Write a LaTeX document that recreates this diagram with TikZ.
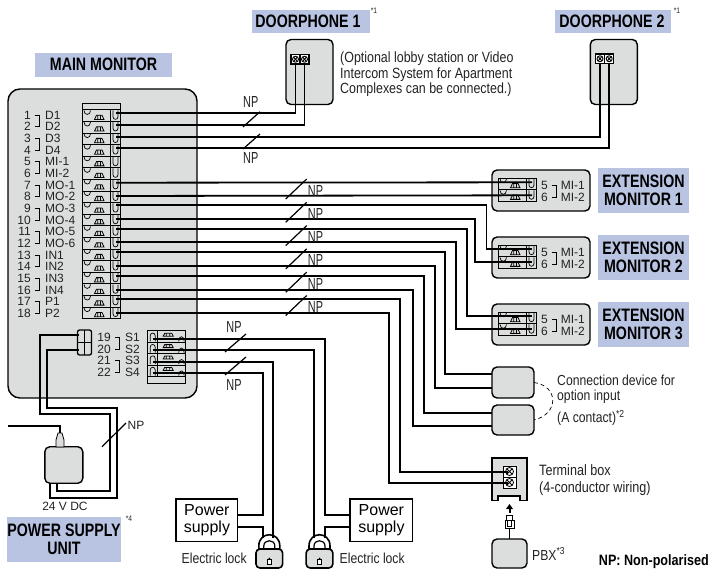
\documentclass[tikz,border=0pt]{standalone}
\usepackage{fontspec}
\setmainfont{Liberation Sans}
\newfontfamily\condfont[FakeStretch=0.84]{Liberation Sans}
\newfontfamily\headfont[FakeStretch=0.79]{Liberation Sans}
\newfontfamily\npfont[FakeStretch=0.68]{Liberation Sans}
\usepackage{xcolor}
\usepackage{tikz}
\usetikzlibrary{calc}

\definecolor{unitgray}{HTML}{DCDDDD}
\definecolor{labelblue}{HTML}{B9C4E2}
\definecolor{inkgray}{HTML}{222222}

\tikzset{
  termrow/.pic={
    \draw [line width=0.7pt] (0,0) rectangle (28,11.6);
    \draw [line width=0.7pt] (28,0) rectangle (38,11.6);
    \draw [line width=0.7pt] (2,0.8) .. controls (2,6) and (8.5,6) .. (8.5,0.8);
    \draw [line width=0.8pt] (12.5,9.8)--(14.5,5.5)--(20,5.5)--(22,9.8)--cycle (15.8,5.5)--(15.8,9.8) (18.5,5.5)--(18.5,9.8);
    \draw [line width=0.7pt] (31,0.8)--(31,7) .. controls (31,10.5) and (36,10.5) .. (36,7)--(36,0.8);
  },
  striprow/.pic={
    \draw [line width=0.7pt] (0,0) rectangle (9.5,11.4);
    \draw [line width=0.7pt] (9.5,0) rectangle (38,11.4);
    \draw [line width=0.7pt] (2.5,10.6)--(2.5,5) .. controls (2.5,1.5) and (7.5,1.5) .. (7.5,5)--(7.5,10.6);
    \draw [line width=0.8pt] (15.5,5.5)--(17,2.5)--(24,2.5)--(25.5,5.5)--cycle (18.5,2.5)--(18.5,5.5) (22,2.5)--(22,5.5);
    \draw [line width=0.7pt] (31,10.6) .. controls (31,4.5) and (36.5,4.5) .. (36.5,10.6);
  },
  screwbox/.pic={
    \draw [line width=1.1pt, fill=white] (0,0) rectangle (9,9.5);
    \draw [line width=0.9pt] (4.5,4.75) circle (3);
    \draw [line width=0.9pt] (2.5,2.5)--(6.5,7) (6.5,2.5)--(2.5,7);
  },
  bigscrew/.pic={
    \draw [line width=1pt, fill=white] (0,0) rectangle (13,11);
    \draw [line width=0.8pt] (6.5,5.5) circle (4);
    \draw [line width=0.8pt] (4,3)--(9,8) (9,3)--(4,8);
  }
}

\begin{document}
\begin{tikzpicture}[x=1pt,y=-1pt]%%entrance system wiring

        \tikzstyle{unit}   = [draw, line width=1.4pt, fill=unitgray, rounded corners=5pt, inner sep=0pt, outer sep=0pt]
        \tikzstyle{wire}   = [line width=1.8pt, black]
        \tikzstyle{tick}   = [line width=1.2pt, black]
        \tikzstyle{hair}   = [line width=0.7pt, black]
        \tikzstyle{head}   = [fill=labelblue, inner sep=0pt, align=center, font=\headfont\bfseries\fontsize{18}{17.5}\selectfont]
        \tikzstyle{pin}    = [inner sep=0pt, text=inkgray, text height=8.6pt, text depth=0pt, font=\fontsize{12}{12}\selectfont]
        \tikzstyle{note}   = [inner sep=0pt, anchor=west, text=inkgray, font=\condfont\fontsize{14.5}{15}\selectfont]
        \tikzstyle{nplabel}= [inner sep=0pt, text=inkgray, font=\npfont\fontsize{16}{16}\selectfont]
        \tikzstyle{star}   = [inner sep=0pt, text=inkgray, font=\condfont\fontsize{8}{8}\selectfont]

        \useasboundingbox (0,0) rectangle (709,569);

        % headings
        \node [head, minimum width=137, minimum height=24](mainhead) at (103.5,64.7) {MAIN MONITOR};
        \node [head, minimum width=118, minimum height=23](door1head) at (311,21.7) {\hspace*{-6pt}DOORPHONE 1};
        \node [head, minimum width=116, minimum height=23](door2head) at (613,21.7) {\hspace*{-2pt}DOORPHONE 2};
        \node [head, minimum width=91, minimum height=45.5](ext1head) at (643.5,190.5) {EXTENSION\\MONITOR 1};
        \node [head, minimum width=91, minimum height=45.5](ext2head) at (643.5,257.5) {EXTENSION\\MONITOR 2};
        \node [head, minimum width=91, minimum height=45.5](ext3head) at (643.5,324.5) {EXTENSION\\MONITOR 3};
        \node [head, minimum width=114, minimum height=45](psuhead) at (64,539.5) {POWER SUPPLY\\UNIT};
        \node [star](star1) at (374,11) {*1};
        \node [star](star2) at (677,11) {*1};
        \node [star](star4) at (129,519) {*4};

        % units
        \node [unit, rounded corners=12pt, minimum width=189, minimum height=309](monitor) at (102.5,243.5) {};
        \node [unit, minimum width=47, minimum height=65](door1) at (309.5,72) {};
        \node [unit, minimum width=47, minimum height=65](door2) at (613.8,72) {};
        \node [unit, minimum width=98, minimum height=41](ext1) at (541,190.5) {};
        \node [unit, minimum width=98, minimum height=41](ext2) at (541,257.5) {};
        \node [unit, minimum width=98, minimum height=41](ext3) at (541,324.5) {};
        \node [unit, minimum width=42, minimum height=31](dev1) at (513,382.5) {};
        \node [unit, minimum width=42, minimum height=30](dev2) at (513,420) {};
        \node [unit, minimum width=35, minimum height=29](pbx) at (509.5,553.5) {};
        \node [unit, minimum width=38, minimum height=36.5](psu) at (63.8,465) {};
        \node [draw, line width=1.4pt, fill=white, inner sep=0pt, outer sep=0pt, minimum width=61.7, minimum height=42.7, align=center, font=\fontsize{16}{17.5}\selectfont](sup1) at (206.9,520.4) {Power\\supply};
        \node [draw, line width=1.4pt, fill=white, inner sep=0pt, outer sep=0pt, minimum width=62.7, minimum height=42.7, align=center, font=\fontsize{16}{17.5}\selectfont](sup2) at (381.4,520.4) {Power\\supply};

        % terminal box with its notch
        \draw [line width=1.2pt, fill=unitgray] (492,458) -- (527,458) -- (527,500.5) -- (520,500.5) -- (520,496) -- (498,496) -- (498,500.5) -- (492,500.5) -- cycle;
        \node [inner sep=0pt, minimum size=0pt](tbox) at (509.5,479) {};
        \pic at (503,466) {bigscrew};
        \pic at (503,477) {bigscrew};

        % plug under the terminal box
        \draw [line width=1pt, fill=white] (506.5,515) -- (512.5,515) -- (512.5,520) -- (514,520) -- (514,528) -- (505,528) -- (505,520) -- (506.5,520) -- cycle (507.5,520) -- (511.5,520) -- (511.5,526) -- (507.5,526) -- cycle;
        \coordinate (plugtop) at (509.5,504);
        \coordinate (plugtail) at (509.5,528);
        \draw [line width=1.5pt] (plugtail) -- (pbx.north);
        \draw [line width=2pt] (509.5,513) -- (509.5,508);
        \fill (plugtop) -- (513,509) -- (506,509) -- cycle;

        % main monitor strip
        \draw [line width=0.7pt] (82,103) rectangle (120,109.7);
        \foreach \i in {1,...,18}{
                \pgfmathsetmacro{\y}{109.7+(\i-1)*11.6}
                \pic at (82,\y) {termrow};
        }
        \foreach \i/\pin in {1/D1,2/D2,3/D3,4/D4,5/MI-1,6/MI-2,7/MO-1,8/MO-2,9/MO-3,10/MO-4,11/MO-5,12/MO-6,13/IN1,14/IN2,15/IN3,16/IN4,17/P1,18/P2}{
                \pgfmathsetmacro{\y}{115+(\i-1)*11.66}
                \node [pin, anchor=east](num\i) at (31,\y) {\i};
                \node [pin, anchor=west](name\i) at (45,\y) {\pin};
        }
        \foreach \i in {1,3,...,17}{
                \pgfmathsetmacro{\y}{115+(\i-1)*11.66}
                \draw [hair] (34.5,\y) -- (39.5,\y) -- (39.5,\y+11.66) -- (34.5,\y+11.66);
        }

        % lock strip
        \draw [line width=0.7pt] (147.7,376.3) rectangle (185.7,383);
        \foreach \i in {0,...,3}{
                \pgfmathsetmacro{\y}{330.7+\i*11.4}
                \pic at (147.7,\y) {striprow};
        }
        \foreach \i/\pin/\y in {19/S1/336.7,20/S2/349,21/S3/360,22/S4/371.7}{
                \node [pin, anchor=east](num\i) at (111,\y) {\i};
                \node [pin, anchor=west](name\i) at (125,\y) {\pin};
        }
        \draw [hair] (115,337) -- (119.5,337) -- (119.5,349) -- (115,349);
        \draw [hair] (115,360) -- (119.5,360) -- (119.5,372) -- (115,372);

        % power jack
        \node [draw, line width=1.3pt, fill=unitgray, rounded corners=2pt, inner sep=0pt, outer sep=0pt, minimum width=14, minimum height=25](jack) at (84.5,342.5) {};
        \draw [line width=1.2pt] (jack.west) -- (jack.east) (jack.north) -- (jack.south);

        % extension monitors
        \foreach \m/\dy in {1/0,2/67,3/134}{
                \pic at (498,178+\dy) {termrow};
                \pic at (498,189.6+\dy) {termrow};
                \node [pin, anchor=east](five\m) at (548,185+\dy) {5};
                \node [pin, anchor=east](six\m) at (548,197+\dy) {6};
                \node [pin, anchor=west](one\m) at (560.7,185+\dy) {MI-1};
                \node [pin, anchor=west](two\m) at (560.7,197+\dy) {MI-2};
                \draw [hair] (551.5,185+\dy) -- (556.5,185+\dy) -- (556.5,197+\dy) -- (551.5,197+\dy);
                \coordinate (ext\m a) at (532,182.3+\dy);
                \coordinate (ext\m b) at (532,195.3+\dy);
        }

        % doorphone terminals
        \pic at (291,54.5) {screwbox};
        \pic at (300,54.5) {screwbox};
        \pic at (595.5,54) {screwbox};
        \pic at (604.7,54) {screwbox};
        \coordinate (door1a) at (295.5,64);
        \coordinate (door1b) at (304.5,64);
        \coordinate (door2a) at (600,63.5);
        \coordinate (door2b) at (609.2,63.5);

        % wire ends
        \foreach \name/\y in {d1/113.3,d2/125,d3/136.7,d4/148.3,mo1/182.7,mo2/196,mo3/205,mo4/219,mo5/229,mo6/242.3,in1/252.3,in2/266,in3/276,in4/290,p1/299,p2/312.7}{
                \coordinate (\name) at (116,\y);
        }
        \foreach \name/\y in {s1/339,s2/350,s3/362,s4/373}{
                \coordinate (\name) at (153,\y);
        }
        \coordinate (dev1a) at ($(dev1.west)+(0,-8.5)$);
        \coordinate (dev1b) at ($(dev1.west)+(0,5.5)$);
        \coordinate (dev2a) at ($(dev2.west)+(0,-7)$);
        \coordinate (dev2b) at ($(dev2.west)+(0,6)$);
        \coordinate (tboxa) at (508,472);
        \coordinate (tboxb) at (508,483);
        \coordinate (sup1a) at ($(sup1.east)+(0,-5.6)$);
        \coordinate (sup1b) at ($(sup1.east)+(0,6.2)$);
        \coordinate (sup2a) at ($(sup2.west)+(0,-5.6)$);
        \coordinate (sup2b) at ($(sup2.west)+(0,6.2)$);
        \coordinate (lock1a) at (262.7,538);
        \coordinate (lock1b) at (273.3,538);
        \coordinate (lock2a) at (314,538);
        \coordinate (lock2b) at (325,538);
        \coordinate (jacka) at (79,335);
        \coordinate (jackb) at (79,350);
        \coordinate (psua) at (50,483.2);
        \coordinate (psub) at (56.7,483.2);
        \coordinate (mains) at (8,426);
        \coordinate (plugpsu) at (60,433);

        % wires
        \draw [wire] (d1) -| (door1a);
        \draw [wire] (d2) -| (door1b);
        \draw [wire] (d3) -| (door2a);
        \draw [wire] (d4) -| (door2b);
        \draw [wire] (mo1) -- (ext1a);
        \draw [wire] (mo2) -- (ext1b);
        \foreach \from/\to/\x in {mo3/ext2a/486.5,mo4/ext2b/475,mo5/ext3a/466.7,mo6/ext3b/456,in1/dev1a/445,in2/dev1b/435,in3/dev2a/424,in4/dev2b/413,p1/tboxa/400,p2/tboxb/389,s1/sup2a/325,s4/sup1a/262.7}{
                \coordinate (bend) at (\x,0);
                \draw [wire] (\from) -- (\from -| bend) -- (\to -| bend) -- (\to);
        }
        \draw [wire] (s2) -| (lock2a);
        \draw [wire] (s3) -| (lock1b);
        \draw [wire] (sup1b) -| (lock1a);
        \draw [wire] (sup2b) -| (lock2b);
        \draw [wire] (jacka) -| (40,414) -| (110,490.7) -| (psub);
        \draw [wire] (jackb) -| (46.7,408) -| (116.7,497.7) -| (psua);

        % plug on the power supply unit
        \draw [line width=0.8pt, fill=unitgray] (56,447) -- (56,440) -- (58,433) -- (62,433) -- (64,440) -- (64,447) -- cycle;
        \draw [line width=2pt] (mains) -| (plugpsu);

        % electric locks
        \foreach \l/\x in {1/269.3,2/319.5}{
                \draw [line width=1.6pt] (\x-10.5,549) -- (\x-10.5,546) .. controls (\x-10.5,531) and (\x+10.5,531) .. (\x+10.5,546) -- (\x+10.5,549);
                \draw [line width=1.2pt] (\x-5.5,549) -- (\x-5.5,546) .. controls (\x-5.5,539) and (\x+5.5,539) .. (\x+5.5,546) -- (\x+5.5,549);
                \node [unit, line width=1.6pt, rounded corners=4pt, minimum width=26.7, minimum height=19](lock\l) at (\x,558.5) {};
                \draw [line width=0.6pt, fill=white] (\x-1.8,559.5) rectangle (\x+1.8,564);
                \fill (\x,558.5) circle (1);
        }

        % NP marks
        \foreach \i in {0,...,5}{
                \draw [tick] (285.7,199+23.3*\i) -- (306.7,179+23.3*\i);
                \node [nplabel](np\i) at (315.5,190.5+23.3*\i) {NP};
        }
        \draw [tick] (243,127) -- (260,111.7);
        \draw [tick] (243,149) -- (260,134);
        \node [nplabel](npa) at (250.7,101.7) {NP};
        \node [nplabel](npb) at (250.7,158) {NP};
        \draw [tick] (225,352) -- (246,334);
        \draw [tick] (225,375) -- (246,357);
        \node [nplabel](npc) at (234,327) {NP};
        \node [nplabel](npd) at (234,385) {NP};
        \draw [tick] (102,446.7) -- (126,423);
        \node [pin, anchor=west](npe) at (127.5,425) {NP};

        % dashed link of the option inputs
        \draw [hair, dashed, dash pattern=on 4pt off 3pt] (dev1.east) .. controls (559,386) and (559,414) .. (dev2.east);

        % texts
        \node [note, align=left, font=\condfont\fontsize{14.8}{15.6}\selectfont](doornote) at (340,74.5) {(Optional lobby station or Video\\Intercom System for Apartment\\Complexes can be connected.)};
        \node [note](devnote1) at (557,380) {Connection device for};
        \node [note](devnote2) at (557,397) {option input};
        \node [note](devnote3) at (557,418) {(A contact)\textsuperscript{*2}};
        \node [note, align=left, font=\condfont\fontsize{15}{17}\selectfont](tboxnote) at (539,480.5) {Terminal box\\(4-conductor wiring)};
        \node [note](pbxnote) at (532,554) {PBX\textsuperscript{*3}};
        \node [note](locknote1) at (181.5,558) {Electric lock};
        \node [note](locknote2) at (339.5,558) {Electric lock};
        \node [pin, anchor=center](dcnote) at (65,506) {24 V DC};
        \node [inner sep=0pt, anchor=east, font=\condfont\bfseries\fontsize{15}{15}\selectfont](npnote) at (709,561.5) {NP: Non-polarised};
\end{tikzpicture}
\end{document}
